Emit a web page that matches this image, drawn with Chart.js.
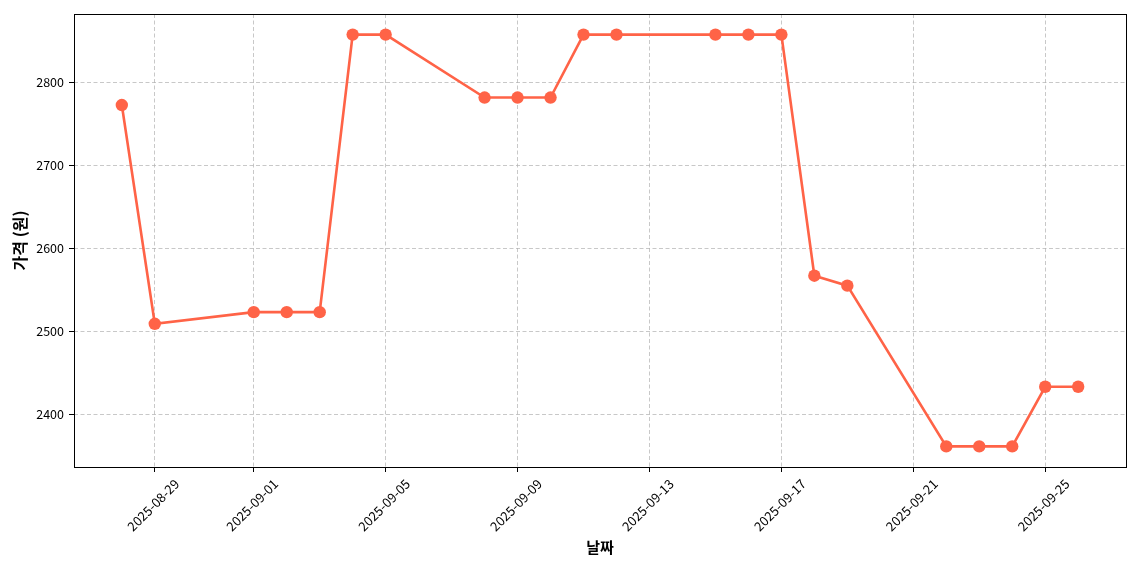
<!DOCTYPE html>
<html>
<head>
<meta charset="utf-8">
<script src="https://cdn.jsdelivr.net/npm/chart.js@4/dist/chart.umd.min.js"></script>
<style>
  html, body { margin: 0; padding: 0; background: #fff; }
  #wrap { width: 1140px; height: 570px; }
</style>
</head>
<body>
<div id="wrap"><canvas id="c" width="1140" height="570"></canvas></div>
<script>
const dates = ['2025-08-28','2025-08-29','2025-09-01','2025-09-02','2025-09-03','2025-09-04','2025-09-05',
  '2025-09-08','2025-09-09','2025-09-10','2025-09-11','2025-09-12','2025-09-15','2025-09-16','2025-09-17',
  '2025-09-18','2025-09-19','2025-09-22','2025-09-23','2025-09-24','2025-09-25','2025-09-26'];
const prices = [2773, 2509, 2523, 2523, 2523, 2858, 2858,
  2782, 2782, 2782, 2858, 2858, 2858, 2858, 2858,
  2567, 2555, 2361, 2361, 2361, 2433, 2433];
const xTickLabels = ['2025-08-29','2025-09-01','2025-09-05','2025-09-09','2025-09-13','2025-09-17','2025-09-21','2025-09-25'];
const yTicks = [2400, 2500, 2600, 2700, 2800];

const DAY = 86400000;
const base = Date.UTC(2025, 7, 28);
function dayIndex(s) {
  const p = s.split('-').map(Number);
  return (Date.UTC(p[0], p[1] - 1, p[2]) - base) / DAY;
}
function dayLabel(v) {
  const d = new Date(base + Math.round(v) * DAY);
  const mm = String(d.getUTCMonth() + 1).padStart(2, '0');
  const dd = String(d.getUTCDate()).padStart(2, '0');
  return d.getUTCFullYear() + '-' + mm + '-' + dd;
}

const points = dates.map((d, i) => ({ x: dayIndex(d), y: prices[i] }));
const xs = points.map(p => p.x);
const xSpan = Math.max(...xs) - Math.min(...xs);
const ySpan = Math.max(...prices) - Math.min(...prices);

const FONT = "'Noto Sans CJK KR', 'Noto Sans', sans-serif";
const COLOR = '#FF6347';

const frame = {
  id: 'frame',
  afterDatasetsDraw(chart) {
    const a = chart.chartArea, ctx = chart.ctx;
    ctx.save();
    ctx.strokeStyle = '#000';
    ctx.lineWidth = 1;
    ctx.strokeRect(Math.round(a.left) + 0.5, Math.round(a.top) + 0.5, Math.round(a.right - a.left), Math.round(a.bottom - a.top));
    ctx.restore();
  }
};

new Chart(document.getElementById('c'), {
  type: 'line',
  data: {
    datasets: [{
      data: points,
      borderColor: COLOR,
      backgroundColor: COLOR,
      borderWidth: 2.6,
      pointRadius: 6.2,
      pointHoverRadius: 6.2,
      pointBorderWidth: 0,
      tension: 0,
      clip: false
    }]
  },
  options: {
    responsive: false,
    animation: false,
    events: [],
    layout: { padding: { top: 14, right: 14, left: 0, bottom: 0 } },
    plugins: { legend: { display: false }, tooltip: { enabled: false } },
    scales: {
      x: {
        type: 'linear',
        min: Math.min(...xs) - xSpan * 0.05,
        max: Math.max(...xs) + xSpan * 0.05,
        afterBuildTicks(scale) { scale.ticks = xTickLabels.map(l => ({ value: dayIndex(l) })); },
        afterFit(scale) { scale.height = 103; },
        ticks: {
          callback: (v) => dayLabel(v),
          minRotation: 45, maxRotation: 45,
          autoSkip: false,
          labelOffset: 22,
          padding: 4,
          color: '#000',
          font: { family: FONT, size: 13 }
        },
        grid: {
          color: 'rgba(176,176,176,0.7)',
          lineWidth: 1,
          tickLength: 5,
          tickColor: '#000',
          tickWidth: 1,
          tickBorderDash: []
        },
        border: { display: false, dash: [4, 2.5] },
        title: {
          display: true, text: '날짜', color: '#000',
          font: { family: FONT, size: 15, weight: 'bold' },
          padding: { top: 0, bottom: 14 }
        }
      },
      y: {
        min: Math.min(...prices) - ySpan * 0.05,
        max: Math.max(...prices) + ySpan * 0.05,
        afterBuildTicks(scale) { scale.ticks = yTicks.map(v => ({ value: v })); },
        afterFit(scale) { scale.width = 74; },
        ticks: {
          callback: (v) => String(v),
          padding: 5,
          color: '#000',
          font: { family: FONT, size: 12.5 }
        },
        grid: {
          color: 'rgba(176,176,176,0.7)',
          lineWidth: 1,
          tickLength: 5,
          tickColor: '#000',
          tickWidth: 1,
          tickBorderDash: []
        },
        border: { display: false, dash: [4, 2.5] },
        title: {
          display: true, text: '가격 (원)', color: '#000',
          font: { family: FONT, size: 16, weight: 'bold' },
          padding: { top: 10, bottom: 0 }
        }
      }
    }
  },
  plugins: [frame]
});
</script>
</body>
</html>
